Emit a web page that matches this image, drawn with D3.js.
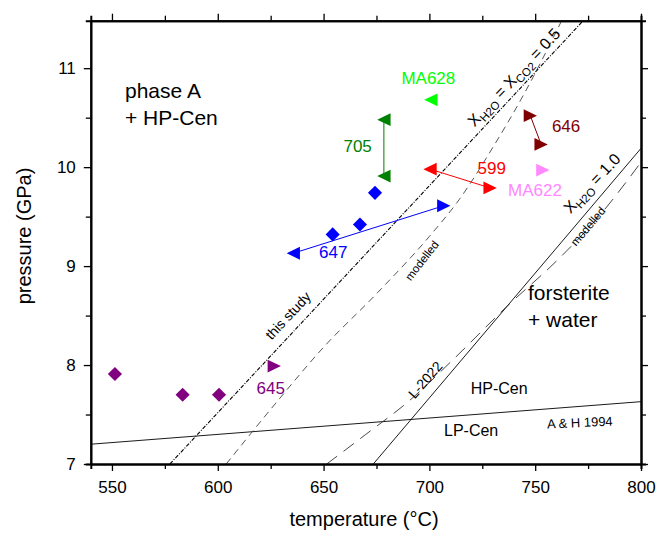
<html>
<head>
<script src="https://d3js.org/d3.v7.min.js"></script>
<style>
body{margin:0;background:#fff;}
text{font-family:"Liberation Sans",Arial,Helvetica,sans-serif;}
.axis path,.axis line{stroke:#000;}
.axis path{stroke-width:2;}
.axis line{stroke-width:1.3;}
.axis text{font-size:17px;fill:#000;}
</style>
</head>
<body>
<script>
// chart values
const tempTicks = [550,600,650,700,750,800];
const tempMinor = [575,625,675,725,775];
const pressTicks = [7,8,9,10,11];
const pressMinor = [7.5,8.5,9.5,10.5,11.5];

// diamonds
const purpleT = [551.4,583.4,600.6];
const purpleP = [7.91,7.70,7.70];
const blueT = [654.3,667.2,674.3];
const blueP = [9.32,9.42,9.74];

// triangles (run, T, P, pointing)
const triRun = ["645","647","647","705","705","MA628","646","646","599","599","MA622"];
const triT = [626.7,635.7,706.8,678.5,678.5,700.7,747.7,752.8,700.3,728.7,753.6];
const triP = [7.99,9.13,9.61,10.48,9.91,10.68,10.52,10.23,9.98,9.79,9.97];
const triDir = ["r","l","r","l","l","l","r","r","l","r","r"];

// run labels
const labRun = ["645","647","705","MA628","646","599","MA622"];
const labT = [625,654.6,666.1,699.5,764.6,729.5,749.9];
const labP = [7.71,9.08,10.15,10.84,10.36,9.93,9.71];

// phase boundaries
const studyT = [577.4,772.7];
const studyP = [7,11.48];
const mod05T = [604,628,650,675,700,714,730,745,762.5];
const mod05P = [7.0,7.63,8.18,8.72,9.3,9.67,10.2,10.75,11.48];
const l2022T = [673.5,800];
const l2022P = [7,10.19];
const mod10T = [651.5,670,690,710,737,760,780,800];
const mod10P = [7.0,7.3,7.63,8.03,8.6,9.05,9.5,10.05];
const cenT = [540,800];
const cenP = [7.2,7.63];

const runColor = {"645":"#800080","647":"#0000ff","705":"#008000","MA628":"#00ff00",
  "646":"#800000","599":"#ff0000","MA622":"#ff88ff"};

const w = 659, h = 534;
const margin = {left:90.8,right:18,top:20.7,bottom:70};
const innerW = w-margin.left-margin.right;
const innerH = 464-margin.top;

const x = d3.scaleLinear().domain([540,800]).range([0,innerW]);
const y = d3.scaleLinear().domain([7,11.48]).range([innerH,0]);

const svg = d3.select("body").append("svg").attr("width",w).attr("height",h);
const g = svg.append("g").attr("transform","translate("+margin.left+","+margin.top+")");

g.append("clipPath").attr("id","clip").append("rect").attr("width",innerW).attr("height",innerH);
const plot = g.append("g").attr("clip-path","url(#clip)");

//boundary lines
const line = d3.line().x(d=>x(d[0])).y(d=>y(d[1]));
const curve = d3.line().x(d=>x(d[0])).y(d=>y(d[1])).curve(d3.curveMonotoneX);
function pairs(a,b){return a.map((v,i)=>[v,b[i]]);}

plot.append("path").attr("d",line(pairs(cenT,cenP)))
  .attr("fill","none").attr("stroke","#000").attr("stroke-width",0.9);
plot.append("path").attr("d",line(pairs(l2022T,l2022P)))
  .attr("fill","none").attr("stroke","#000").attr("stroke-width",0.9);
plot.append("path").attr("d",curve(pairs(mod10T,mod10P)))
  .attr("fill","none").attr("stroke","#333").attr("stroke-width",0.9).attr("stroke-dasharray","13,8");
plot.append("path").attr("d",curve(pairs(mod05T,mod05P)))
  .attr("fill","none").attr("stroke","#444").attr("stroke-width",0.9).attr("stroke-dasharray","7,5");
plot.append("path").attr("d",line(pairs(studyT,studyP)))
  .attr("fill","none").attr("stroke","#000").attr("stroke-width",1.1).attr("stroke-dasharray","4,1.5,1,1.5");

//connecting lines of runs
const runsWithLine = ["647","705","646","599"];
runsWithLine.forEach(function(r){
  const idx = triRun.map((v,i)=>v==r?i:-1).filter(i=>i>=0);
  plot.append("path").attr("d",line(idx.map(i=>[triT[i],triP[i]])))
    .attr("fill","none").attr("stroke",runColor[r]).attr("stroke-width",1);
});

//diamonds
const dia = d3.symbol().type(d3.symbolSquare).size(100);
plot.selectAll(".pd").data(pairs(purpleT,purpleP)).enter().append("path")
  .attr("d",dia).attr("fill","#800080")
  .attr("transform",d=>"translate("+x(d[0])+","+y(d[1])+") rotate(45)");
plot.selectAll(".bd").data(pairs(blueT,blueP)).enter().append("path")
  .attr("d",dia).attr("fill","#0000ff")
  .attr("transform",d=>"translate("+x(d[0])+","+y(d[1])+") rotate(45)");

//triangles
const tw = 13.3, th = 12.8;
function tri(dir){
  if(dir=="r") return "M"+(-tw/2)+","+(-th/2)+"L"+(tw/2)+",0L"+(-tw/2)+","+(th/2)+"Z";
  return "M"+(tw/2)+","+(-th/2)+"L"+(-tw/2)+",0L"+(tw/2)+","+(th/2)+"Z";
}
plot.selectAll(".tri").data(triRun).enter().append("path")
  .attr("d",(d,i)=>tri(triDir[i]))
  .attr("fill",d=>runColor[d])
  .attr("transform",(d,i)=>"translate("+x(triT[i])+","+y(triP[i])+")");

//run labels
g.selectAll(".lab").data(labRun).enter().append("text")
  .attr("x",(d,i)=>x(labT[i])).attr("y",(d,i)=>y(labP[i]))
  .attr("text-anchor","middle").attr("font-size","17px")
  .attr("fill",d=>runColor[d]).text(d=>d);

//field labels
function multi(lines,px,py,size){
  const t = g.append("text").attr("font-size",size).attr("fill","#000");
  lines.forEach(function(s,i){
    t.append("tspan").attr("x",px).attr("y",py+i*27.5).text(s);
  });
}
multi(["phase A","+ HP-Cen"],125-margin.left,98-margin.top,"21px");
multi(["forsterite","+ water"],528-margin.left,300-margin.top,"21px");
g.append("text").attr("x",470.7-margin.left).attr("y",394-margin.top).attr("font-size","16px").text("HP-Cen");
g.append("text").attr("x",444-margin.left).attr("y",436.5-margin.top).attr("font-size","16px").text("LP-Cen");

function rotLabel(txt,cx,cy,ang,size){
  return g.append("text").attr("font-size",size).attr("text-anchor","middle")
    .attr("transform","translate("+(cx-margin.left)+","+(cy-margin.top)+") rotate("+ang+")")
    .text(txt);
}
rotLabel("A & H 1994",580,427,-2.5,"13px");
rotLabel("this study",291.7,319,-47,"14px");
rotLabel("modelled",425,263,-52,"11.5px");
rotLabel("modelled",591,229,-50,"11.5px");
rotLabel("L-2022",429,383,-49,"14px");

function subLabel(parts,cx,cy,ang){
  const t = g.append("text").attr("font-size","16px").attr("text-anchor","middle")
    .attr("transform","translate("+(cx-margin.left)+","+(cy-margin.top)+") rotate("+ang+")");
  parts.forEach(function(p){
    const s = t.append("tspan").text(p[0]);
    if(p[1]) s.attr("font-size","11.5px").attr("dy",4);
    else if(p[2]) s.attr("dy",-4);
  });
}
subLabel([["X"],["H2O",1],[" = X",0,1],["CO2",1],[" = 0.5",0,1]],518,81,-47);
subLabel([["X"],["H2O",1],[" = 1.0",0,1]],596,187,-47);

//axes
const fmt = d3.format("d");
const xAxis = d3.axisBottom(x).tickValues(tempTicks).tickSizeInner(7).tickSizeOuter(0).tickPadding(10).tickFormat(fmt);
const xMinor = d3.axisBottom(x).tickValues(tempMinor).tickSize(5).tickFormat("");
const yAxis = d3.axisLeft(y).tickValues(pressTicks).tickSizeInner(7).tickSizeOuter(0).tickPadding(8).tickFormat(fmt);
const yMinor = d3.axisLeft(y).tickValues(pressMinor.filter(v=>v<11.48)).tickSize(5).tickFormat("");

g.append("g").attr("class","axis").attr("transform","translate(0,"+innerH+")").call(xAxis);
g.append("g").attr("class","axis").attr("transform","translate(0,"+innerH+")").call(xMinor);
g.append("g").attr("class","axis").call(d3.axisTop(x).tickValues(tempTicks).tickSizeInner(7).tickSizeOuter(0).tickFormat(""));
g.append("g").attr("class","axis").call(d3.axisTop(x).tickValues(tempMinor).tickSize(5).tickFormat(""));
g.append("g").attr("class","axis").call(yAxis);
g.append("g").attr("class","axis").call(yMinor);
g.append("g").attr("class","axis").attr("transform","translate("+innerW+",0)")
  .call(d3.axisRight(y).tickValues(pressTicks).tickSizeInner(7).tickSizeOuter(0).tickFormat(""));
g.append("g").attr("class","axis").attr("transform","translate("+innerW+",0)")
  .call(d3.axisRight(y).tickValues(pressMinor.filter(v=>v<11.48)).tickSize(5).tickFormat(""));

//axis titles
svg.append("text").attr("x",364).attr("y",526).attr("text-anchor","middle")
  .attr("font-size","20px").text("temperature (°C)");
svg.append("text").attr("transform","translate(31,236) rotate(-90)").attr("text-anchor","middle")
  .attr("font-size","20px").text("pressure (GPa)");
</script>
</body>
</html>
